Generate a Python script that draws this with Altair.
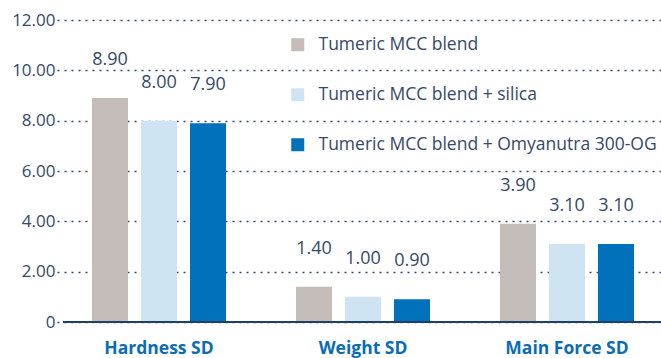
import altair as alt
import pandas as pd

# Standard deviations for three tablet properties, per blend
groups = ["Hardness SD", "Weight SD", "Main Force SD"]
series = [
    "Tumeric MCC blend",
    "Tumeric MCC blend + silica",
    "Tumeric MCC blend + Omyanutra 300-OG",
]
blend = [8.90, 1.40, 3.90]
blend_silica = [8.00, 1.00, 3.10]
blend_omyanutra = [7.90, 0.90, 3.10]
colors = ["#c4bcb9", "#cfe4f2", "#0071ba"]

rows = []
for name, vals in zip(series, [blend, blend_silica, blend_omyanutra]):
    for g, v in zip(groups, vals):
        rows.append({"group": g, "series": name, "value": v})
df = pd.DataFrame(rows)

navy = "#34496b"
font = "Open Sans"
W, H = 598, 302

x_scale = alt.Scale(paddingInner=0, paddingOuter=0, range=[-6, 606])
x = alt.X(
    "group:N",
    sort=groups,
    title=None,
    scale=x_scale,
    axis=alt.Axis(
        labelAngle=0,
        labelFont=font,
        labelFontSize=17.5,
        labelFontWeight="bold",
        labelColor="#0a6cb4",
        labelPadding=17,
        ticks=False,
        domain=False,
        grid=False,
    ),
)
x_off = alt.XOffset(
    "series:N",
    sort=series,
    scale=alt.Scale(paddingInner=0.265, paddingOuter=0.714),
)
y = alt.Y(
    "value:Q",
    title=None,
    scale=alt.Scale(domain=[0, 12], nice=False),
    axis=alt.Axis(
        values=[0, 2, 4, 6, 8, 10, 12],
        labelExpr="datum.value == 0 ? '0' : format(datum.value, '.2f')",
        labelFont=font,
        labelFontSize=17,
        labelColor=navy,
        labelPadding=8,
        ticks=False,
        domain=False,
        gridColor="#2d4a75",
        gridDash=[2, 5],
        gridWidth=1.5,
    ),
)

bars = alt.Chart(df).mark_bar().encode(
    x=x,
    xOffset=x_off,
    y=y,
    color=alt.Color(
        "series:N",
        sort=series,
        scale=alt.Scale(domain=series, range=colors),
        legend=alt.Legend(
            title=None,
            orient="none",
            legendX=226,
            legendY=16,
            symbolType="square",
            symbolSize=169,
            symbolStrokeWidth=0,
            symbolOpacity=1,
            labelFont=font,
            labelFontSize=17.5,
            labelColor=navy,
            labelOffset=12,
            rowPadding=31,
            labelLimit=420,
        ),
    ),
)

labels = alt.Chart(df).mark_text(
    font=font, fontSize=18, color=navy, baseline="middle", dy=-38
).encode(
    x=alt.X("group:N", sort=groups, scale=x_scale),
    xOffset=x_off,
    y=alt.Y("value:Q"),
    text=alt.Text("value:Q", format=".2f"),
)

# baseline along the bottom of the plot
baseline = alt.Chart(df).mark_rule(color="#1f3f66", strokeWidth=2).encode(
    x=alt.value(0), x2=alt.value(W), y=alt.value(H)
)

chart = (
    alt.layer(bars, labels, baseline)
    .properties(
        width=W,
        height=H,
        autosize=alt.AutoSizeParams(type="none"),
        padding={"left": 63, "top": 20, "right": 0, "bottom": 36},
    )
    .configure_view(stroke=None)
    .configure_axis(gridOpacity=1)
)

chart.save("out.html", embed_options={"renderer": "svg", "actions": False})
